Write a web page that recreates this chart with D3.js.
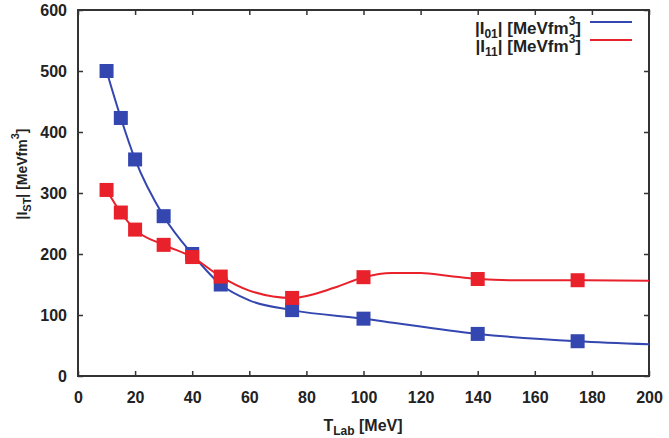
<!DOCTYPE html>
<html>
<head>
<meta charset="utf-8">
<script src="https://cdn.jsdelivr.net/npm/d3@7"></script>
<style>
  body { margin: 0; background: #fff; }
  text { font-family: "Liberation Sans", Arial, sans-serif; font-weight: bold; fill: #222; }
</style>
</head>
<body>
<svg id="chart" width="669" height="438"></svg>
<script>
// marker points (T_Lab in MeV)
const tLab = [10, 15, 20, 30, 40, 50, 75, 100, 140, 175];
const i01 = [500, 423, 355, 262, 200, 150, 108, 94, 69, 57];
const i11 = [305, 268, 240, 215, 195, 163, 128, 162, 159, 157];

// fitted curves
const curve01X = [10, 15, 20, 30, 40, 50, 60, 75, 100, 140, 175, 200];
const curve01Y = [500, 423, 355, 262, 200, 150, 124, 108, 94, 69, 57, 52];
const curve11X = [10, 15, 20, 30, 40, 50, 60, 75, 90, 100, 110, 120, 130, 140, 155, 175, 200];
const curve11Y = [305, 268, 240, 215, 195, 163, 140, 128, 145, 162, 169, 169, 164, 159, 157, 157, 156];

const xTicks = d3.range(0, 201, 20);
const yTicks = d3.range(0, 601, 100);

const svg = d3.select('#chart');
const margin = { top: 10, right: 20, bottom: 62, left: 78 };
const W = 669, H = 438;

const x = d3.scaleLinear().domain([0, 200]).range([margin.left, W - margin.right]);
const y = d3.scaleLinear().domain([0, 600]).range([H - margin.bottom, margin.top]);

// axes with inward ticks
const tick = 5;
svg.append('g')
    .attr('transform', `translate(0,${y(0)})`)
    .call(d3.axisBottom(x).tickValues(xTicks).tickSizeInner(-tick).tickSizeOuter(0).tickPadding(16))
    .call(g => g.select('.domain').remove());
svg.append('g')
    .attr('transform', `translate(0,${y(600)})`)
    .call(d3.axisTop(x).tickValues(xTicks).tickSizeInner(-tick).tickSizeOuter(0).tickFormat(''))
    .call(g => g.select('.domain').remove());
svg.append('g')
    .attr('transform', `translate(${x(0)},0)`)
    .call(d3.axisLeft(y).tickValues(yTicks).tickSizeInner(-tick).tickSizeOuter(0).tickPadding(11))
    .call(g => g.select('.domain').remove());
svg.append('g')
    .attr('transform', `translate(${x(200)},0)`)
    .call(d3.axisRight(y).tickValues(yTicks).tickSizeInner(-tick).tickSizeOuter(0).tickFormat(''))
    .call(g => g.select('.domain').remove());

svg.selectAll('.tick line').attr('stroke', '#333').attr('stroke-width', 1.5);
svg.selectAll('.tick text').style('font-size', '16px').attr('fill', '#222');

svg.append('rect')
    .attr('x', x(0)).attr('y', y(600))
    .attr('width', x(200) - x(0)).attr('height', y(0) - y(600))
    .attr('fill', 'none').attr('stroke', '#333').attr('stroke-width', 2);

const blue = '#3446b0', red = '#e8212b';
const line = d3.line().x(d => x(d[0])).y(d => y(d[1])).curve(d3.curveMonotoneX);

svg.append('path')
    .datum(d3.zip(curve01X, curve01Y))
    .attr('d', line).attr('fill', 'none').attr('stroke', blue).attr('stroke-width', 2);
svg.append('path')
    .datum(d3.zip(curve11X, curve11Y))
    .attr('d', line).attr('fill', 'none').attr('stroke', red).attr('stroke-width', 2);

const sq = 14;
svg.selectAll('.m01').data(d3.zip(tLab, i01)).enter().append('rect')
    .attr('x', d => x(d[0]) - sq / 2).attr('y', d => y(d[1]) - sq / 2)
    .attr('width', sq).attr('height', sq).attr('fill', blue);
svg.selectAll('.m11').data(d3.zip(tLab, i11)).enter().append('rect')
    .attr('x', d => x(d[0]) - sq / 2).attr('y', d => y(d[1]) - sq / 2)
    .attr('width', sq).attr('height', sq).attr('fill', red);

// legend
const legend = [
    { sub: '01', color: blue, ty: 34, ly: 22 },
    { sub: '11', color: red, ty: 52, ly: 40 }
];
legend.forEach(l => {
    const t = svg.append('text').attr('x', 581).attr('y', l.ty)
        .attr('text-anchor', 'end').style('font-size', '17px');
    t.append('tspan').text('|I');
    t.append('tspan').text(l.sub).attr('dy', 4).style('font-size', '12px');
    t.append('tspan').text('| [MeVfm').attr('dy', -4);
    t.append('tspan').text('3').attr('dy', -9).style('font-size', '12px');
    t.append('tspan').text(']').attr('dy', 9);
    svg.append('line').attr('x1', 590).attr('x2', 632).attr('y1', l.ly).attr('y2', l.ly)
        .attr('stroke', l.color).attr('stroke-width', 2);
});

// axis titles
const xt = svg.append('text').attr('x', 363).attr('y', 431)
    .attr('text-anchor', 'middle').style('font-size', '16px');
xt.append('tspan').text('T');
xt.append('tspan').text('Lab').attr('dy', 4).style('font-size', '12px');
xt.append('tspan').text(' [MeV]').attr('dy', -4);

const yt = svg.append('text').attr('transform', 'translate(27,174) rotate(-90)')
    .attr('text-anchor', 'middle').style('font-size', '14px');
yt.append('tspan').text('|I');
yt.append('tspan').text('ST').attr('dy', 4).style('font-size', '11px');
yt.append('tspan').text('| [MeVfm').attr('dy', -4);
yt.append('tspan').text('3').attr('dy', -8).style('font-size', '11px');
yt.append('tspan').text(']').attr('dy', 8);
</script>
</body>
</html>
